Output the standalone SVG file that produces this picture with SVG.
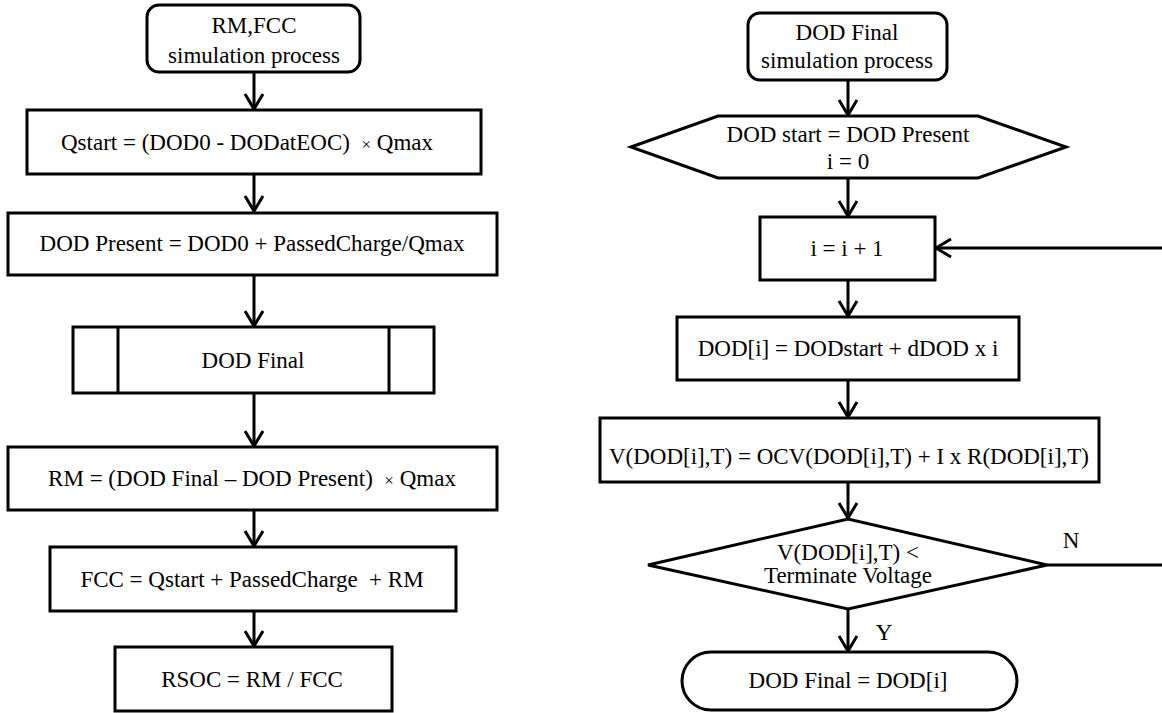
<svg xmlns="http://www.w3.org/2000/svg" width="1162" height="713" viewBox="0 0 1162 713">
<style>
.s{fill:#fff;stroke:#000;stroke-width:3}
.t{font-size:23px;fill:#000;text-anchor:middle}
.l{fill:none;stroke:#000;stroke-width:3}
.a{fill:none;stroke:#000;stroke-width:3;marker-end:url(#arr)}
</style>
<defs>
<marker id="arr" markerUnits="userSpaceOnUse" markerWidth="20" markerHeight="20" refX="0" refY="0" orient="auto" overflow="visible">
<path d="M-15,-9 L0,0 L-15,9" fill="none" stroke="#000" stroke-width="3" stroke-linejoin="miter"/>
</marker>
</defs>
<rect width="1162" height="713" fill="#fff"/>
<g id="connectors">
<line class="a" x1="254" y1="72" x2="254" y2="109"/>
<line class="a" x1="254" y1="174" x2="254" y2="211"/>
<line class="a" x1="254" y1="275" x2="254" y2="326"/>
<line class="a" x1="254" y1="393" x2="254" y2="446"/>
<line class="a" x1="254" y1="510" x2="254" y2="546"/>
<line class="a" x1="254" y1="611" x2="254" y2="646"/>
<line class="a" x1="848" y1="80" x2="848" y2="115"/>
<line class="a" x1="848" y1="178" x2="848" y2="216"/>
<line class="a" x1="848" y1="280" x2="848" y2="316"/>
<line class="a" x1="848" y1="380" x2="848" y2="417"/>
<line class="a" x1="848" y1="482" x2="848" y2="518"/>
<line class="a" x1="848" y1="609" x2="848" y2="651"/>
<polyline class="a" points="1047,565 1166,565 1166,248 936,248"/>
<text class="t" font-family="Liberation Serif, serif" x="1071" y="548">N</text>
<text class="t" font-family="Liberation Serif, serif" x="884" y="640">Y</text>
</g>
<g id="n1">
<rect class="s" x="147" y="5" width="213" height="67" rx="12"/>
<text class="t" font-family="Liberation Serif, serif" x="254" y="33">RM,FCC</text>
<text class="t" font-family="Liberation Serif, serif" x="254" y="63">simulation process</text>
</g>
<g id="n2">
<rect class="s" x="27" y="110" width="454" height="64"/>
<text class="t" font-family="Liberation Serif, serif" x="247" y="150" xml:space="preserve">Qstart = (DOD0 - DODatEOC)  <tspan font-size="17">×</tspan> Qmax</text>
</g>
<g id="n3">
<rect class="s" x="8" y="213" width="489" height="62"/>
<text class="t" font-family="Liberation Serif, serif" x="252" y="251">DOD Present = DOD0 + PassedCharge/Qmax</text>
</g>
<g id="n4">
<rect class="s" x="73" y="327" width="361" height="66"/>
<line class="l" x1="118" y1="327" x2="118" y2="393"/>
<line class="l" x1="389" y1="327" x2="389" y2="393"/>
<text class="t" font-family="Liberation Serif, serif" x="253" y="368">DOD Final</text>
</g>
<g id="n5">
<rect class="s" x="8" y="447" width="489" height="63"/>
<text class="t" font-family="Liberation Serif, serif" x="252" y="486" xml:space="preserve">RM = (DOD Final – DOD Present)  <tspan font-size="17">×</tspan> Qmax</text>
</g>
<g id="n6">
<rect class="s" x="50" y="547" width="406" height="64"/>
<text class="t" font-family="Liberation Serif, serif" x="252" y="587" xml:space="preserve">FCC = Qstart + PassedCharge  + RM</text>
</g>
<g id="n7">
<rect class="s" x="115" y="647" width="277" height="64"/>
<text class="t" font-family="Liberation Serif, serif" x="252" y="687">RSOC = RM / FCC</text>
</g>
<g id="m1">
<rect class="s" x="748" y="13" width="199" height="67" rx="12"/>
<text class="t" font-family="Liberation Serif, serif" x="847" y="40">DOD Final</text>
<text class="t" font-family="Liberation Serif, serif" x="847" y="68">simulation process</text>
</g>
<g id="m2">
<polygon class="s" points="631,147 718,116 978,116 1066,147 978,178 718,178"/>
<text class="t" font-family="Liberation Serif, serif" x="848" y="142">DOD start = DOD Present</text>
<text class="t" font-family="Liberation Serif, serif" x="848" y="169">i = 0</text>
</g>
<g id="m3">
<rect class="s" x="760" y="217" width="175" height="63"/>
<text class="t" font-family="Liberation Serif, serif" x="847" y="256">i = i + 1</text>
</g>
<g id="m4">
<rect class="s" x="677" y="317" width="342" height="63"/>
<text class="t" font-family="Liberation Serif, serif" x="848" y="356">DOD[i] = DODstart + dDOD x i</text>
</g>
<g id="m5">
<rect class="s" x="600" y="418" width="499" height="64"/>
<text class="t" font-family="Liberation Serif, serif" x="849" y="464">V(DOD[i],T) = OCV(DOD[i],T) + I x R(DOD[i],T)</text>
</g>
<g id="m6">
<polygon class="s" points="648,565 848,519 1047,565 848,609"/>
<text class="t" font-family="Liberation Serif, serif" x="848" y="560">V(DOD[i],T) &lt;</text>
<text class="t" font-family="Liberation Serif, serif" x="848" y="583">Terminate Voltage</text>
</g>
<g id="m7">
<rect class="s" x="682" y="652" width="335" height="58" rx="29"/>
<text class="t" font-family="Liberation Serif, serif" x="848" y="688">DOD Final = DOD[i]</text>
</g>
</svg>
